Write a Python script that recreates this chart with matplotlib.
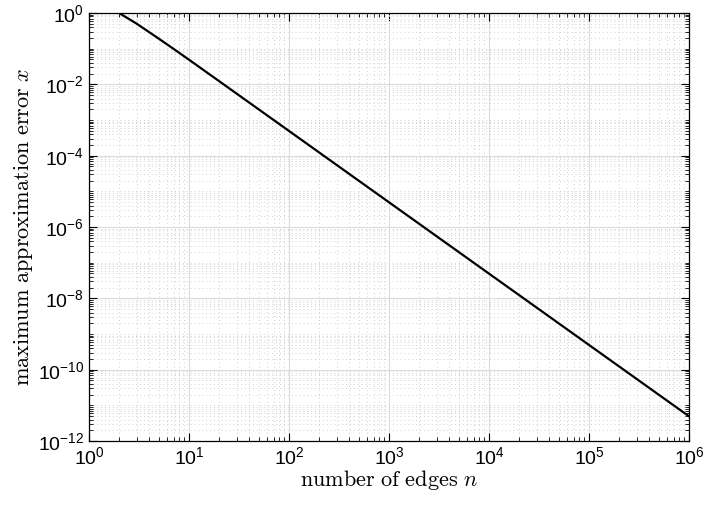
import math
import matplotlib
matplotlib.use("Agg")
import matplotlib.pyplot as plt
from matplotlib.ticker import LogLocator, FuncFormatter, NullFormatter

plt.rcParams['mathtext.fontset'] = 'custom'
plt.rcParams['mathtext.rm'] = 'Liberation Sans'
plt.rcParams['mathtext.it'] = 'Liberation Sans:italic'

# values
edges = [2, 3, 4, 5, 7, 10, 20, 50, 1e2, 1e3, 1e4, 1e5, 1e6]
max_err = [1.0, 0.5, 0.29, 0.19, 0.099, 0.049, 0.0123, 1.97e-3, 4.93e-4,
           4.93e-6, 4.93e-8, 4.93e-10, 4.93e-12]

fig = plt.figure(figsize=(7.05, 5.11), dpi=100)
ax = fig.add_axes([89/705, 70/511, 600/705, 428/511])

ax.plot(edges, max_err, color='black', linewidth=1.6)

ax.set_xscale('log')
ax.set_yscale('log')
ax.set_xlim(1, 1e6)
ax.set_ylim(1e-12, 1)

ax.xaxis.set_major_locator(LogLocator(base=10, numticks=20))
ax.xaxis.set_minor_locator(LogLocator(base=10, subs=range(2, 10), numticks=100))
ax.yaxis.set_major_locator(LogLocator(base=100, numticks=20))
ax.yaxis.set_minor_locator(LogLocator(base=10, subs=range(1, 10), numticks=100))
ax.xaxis.set_minor_formatter(NullFormatter())
ax.yaxis.set_minor_formatter(NullFormatter())

def fmt(v, pos):
    e = int(round(math.log10(v)))
    return r'$\mathrm{10^{%d}}$' % e

ax.xaxis.set_major_formatter(FuncFormatter(fmt))
ax.yaxis.set_major_formatter(FuncFormatter(fmt))

ax.grid(True, which='major', color='#dcdcdc', linestyle='-', linewidth=0.8)
ax.grid(True, which='minor', color='#d0d0d0', linestyle=(0, (1, 3)), linewidth=0.7)
ax.set_axisbelow(True)

ax.tick_params(which='both', direction='in', top=True, right=True, labelsize=14, colors='black')
ax.tick_params(which='major', length=6, width=0.8)
ax.tick_params(which='minor', length=3, width=0.6)
ax.tick_params(axis='x', pad=4)
for s in ax.spines.values():
    s.set_linewidth(0.9)

ax.set_xlabel(r'$\mathrm{number\ of\ edges}\ n$', math_fontfamily='cm', fontsize=16, labelpad=0)
ax.set_ylabel(r'$\mathrm{maximum\ approximation\ error}\ x$', math_fontfamily='cm', fontsize=16, labelpad=2)

fig.savefig('out.png', dpi=100)
